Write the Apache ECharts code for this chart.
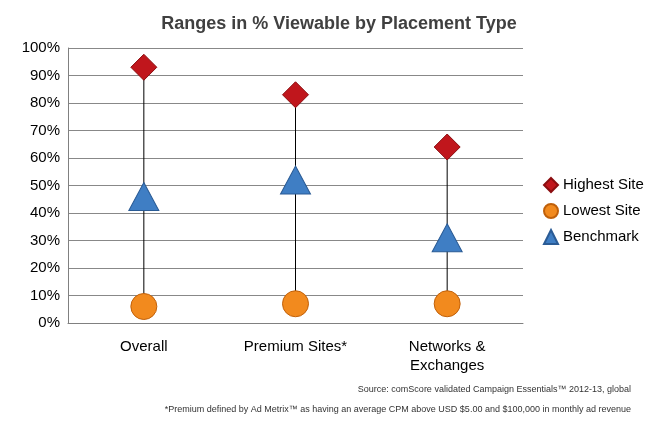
<!DOCTYPE html><html><head><meta charset="utf-8"><script src="https://cdn.jsdelivr.net/npm/echarts@6/dist/echarts.min.js"></script></head><body style="margin:0"><div id="c" style="width:653px;height:424px"></div><script>
var categories=['Overall','Premium Sites*','Networks &\nExchanges'];
var highest=[93,83,64];
var lowest=[6,7,7];
var benchmark=[46,52,31];
var span=highest.map(function(h,i){return h-lowest[i];});
var ch=echarts.init(document.getElementById('c'));
var f='Arial, Liberation Sans, sans-serif';
ch.setOption({
title:{text:'Ranges in % Viewable by Placement Type',left:334,top:10,textAlign:'center',textStyle:{fontFamily:f,fontSize:18,fontWeight:'bold',color:'#404040'}},
graphic:[{type:'text',right:22,top:385,style:{text:'Source: comScore validated Campaign Essentials™ 2012-13, global',font:'9px '+f,fill:'#333',textAlign:'right'}},
{type:'text',right:22,top:405,style:{text:'*Premium defined by Ad Metrix™ as having an average CPM above USD $5.00 and $100,000 in monthly ad revenue',font:'9px '+f,fill:'#333',textAlign:'right'}}],
legend:{orient:'vertical',left:538,top:172,itemGap:10,itemWidth:14,itemHeight:14,textStyle:{fontFamily:f,fontSize:15,color:'#000'},data:['Highest Site','Lowest Site','Benchmark']},
grid:{left:68,right:130,top:48,bottom:101},
xAxis:{type:'category',data:categories,axisTick:{show:false},axisLine:{lineStyle:{color:'#808080'}},axisLabel:{fontFamily:f,fontSize:15,color:'#000',margin:14,lineHeight:19}},
yAxis:{type:'value',min:0,max:100,interval:10,axisLine:{show:true,lineStyle:{color:'#808080'}},splitLine:{lineStyle:{color:'#888'}},axisLabel:{formatter:'{value}%',fontFamily:f,fontSize:15,color:'#000'}},
series:[
{type:'bar',stack:'r',data:lowest,itemStyle:{color:'transparent'},barWidth:1,silent:true,z:1},
{type:'bar',stack:'r',data:span,itemStyle:{color:'#000'},barWidth:1,silent:true,z:1},
{name:'Highest Site',type:'scatter',z:5,data:highest,symbol:'diamond',symbolSize:[26,26],itemStyle:{opacity:1,color:'#c0161c',borderColor:'#8b0d10',borderWidth:1}},
{name:'Lowest Site',type:'scatter',z:5,data:lowest,symbol:'circle',symbolSize:26,itemStyle:{opacity:1,color:'#f28a1e',borderColor:'#c0600a',borderWidth:1}},
{name:'Benchmark',type:'scatter',z:5,data:benchmark,symbol:'triangle',symbolSize:[30,28],itemStyle:{opacity:1,color:'#3f7ec4',borderColor:'#2a5b95',borderWidth:1}}
]});
</script></body></html>
